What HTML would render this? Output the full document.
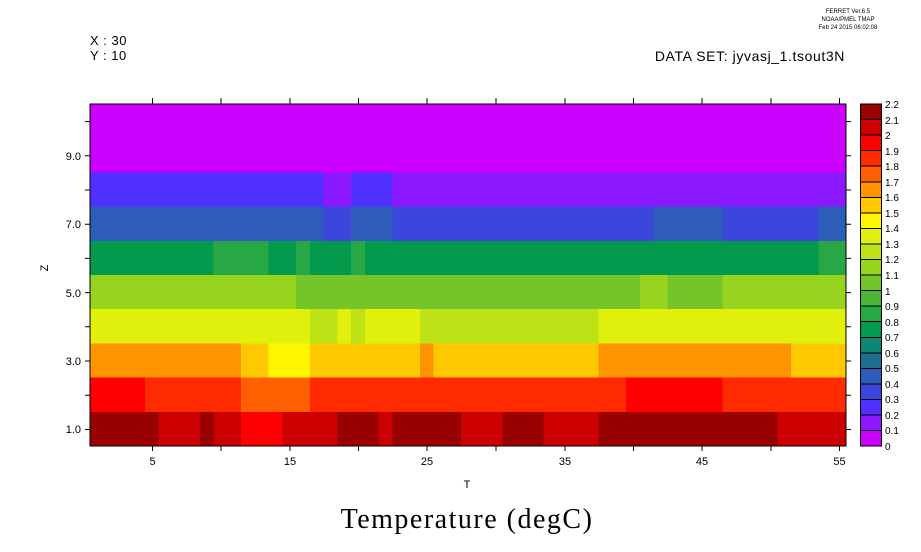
<!DOCTYPE html>
<html><head><style>body{margin:0;background:#fff}svg{display:block}</style></head><body>
<svg width="921" height="552" xmlns="http://www.w3.org/2000/svg" font-family="Liberation Sans, sans-serif">
<rect width="921" height="552" fill="#fff"/>
<g shape-rendering="crispEdges">
<rect x="90" y="104" width="756" height="69" fill="#cc00ff"/>
<rect x="90" y="172.4" width="756" height="34.2" fill="#8c18ff"/>
<rect x="90" y="172.4" width="233.7" height="34.2" fill="#5030ff"/>
<rect x="351.2" y="172.4" width="41.2" height="34.2" fill="#5030ff"/>
<rect x="90" y="206.6" width="756" height="34.2" fill="#3d46dc"/>
<rect x="90" y="206.6" width="233.7" height="34.2" fill="#2d5db8"/>
<rect x="351.2" y="206.6" width="41.2" height="34.2" fill="#2d5db8"/>
<rect x="653.5" y="206.6" width="68.8" height="34.2" fill="#2d5db8"/>
<rect x="818.5" y="206.6" width="27.5" height="34.2" fill="#2d5db8"/>
<rect x="90" y="240.8" width="756" height="34.2" fill="#039a4e"/>
<rect x="213.7" y="240.8" width="55" height="34.2" fill="#27a844"/>
<rect x="296.2" y="240.8" width="13.7" height="34.2" fill="#27a844"/>
<rect x="351.2" y="240.8" width="13.7" height="34.2" fill="#27a844"/>
<rect x="818.5" y="240.8" width="27.5" height="34.2" fill="#27a844"/>
<rect x="90" y="275" width="756" height="34.2" fill="#73c52a"/>
<rect x="90" y="275" width="206.2" height="34.2" fill="#97d41e"/>
<rect x="639.8" y="275" width="27.5" height="34.2" fill="#97d41e"/>
<rect x="722.3" y="275" width="123.7" height="34.2" fill="#97d41e"/>
<rect x="90" y="309.2" width="756" height="34.2" fill="#e0f00c"/>
<rect x="309.9" y="309.2" width="27.5" height="34.2" fill="#bde316"/>
<rect x="351.2" y="309.2" width="13.7" height="34.2" fill="#bde316"/>
<rect x="419.9" y="309.2" width="178.7" height="34.2" fill="#bde316"/>
<rect x="90" y="343.4" width="756" height="34.2" fill="#ffc800"/>
<rect x="90" y="343.4" width="151.2" height="34.2" fill="#ff9300"/>
<rect x="268.7" y="343.4" width="41.2" height="34.2" fill="#fff700"/>
<rect x="419.9" y="343.4" width="13.7" height="34.2" fill="#ff9300"/>
<rect x="598.6" y="343.4" width="192.4" height="34.2" fill="#ff9300"/>
<rect x="90" y="377.6" width="756" height="34.2" fill="#ff2a00"/>
<rect x="90" y="377.6" width="55" height="34.2" fill="#ff0000"/>
<rect x="241.2" y="377.6" width="68.7" height="34.2" fill="#ff5f00"/>
<rect x="626" y="377.6" width="96.3" height="34.2" fill="#ff0000"/>
<rect x="90" y="411.8" width="756" height="34.2" fill="#cc0000"/>
<rect x="90" y="411.8" width="68.7" height="34.2" fill="#990000"/>
<rect x="200" y="411.8" width="13.7" height="34.2" fill="#990000"/>
<rect x="241.2" y="411.8" width="41.2" height="34.2" fill="#ff0000"/>
<rect x="337.4" y="411.8" width="41.2" height="34.2" fill="#990000"/>
<rect x="392.4" y="411.8" width="68.7" height="34.2" fill="#990000"/>
<rect x="502.4" y="411.8" width="41.2" height="34.2" fill="#990000"/>
<rect x="598.6" y="411.8" width="178.7" height="34.2" fill="#990000"/>
</g>
<rect x="90" y="104" width="756" height="342" fill="none" stroke="#000" stroke-width="1"/>
<g stroke="#000" stroke-width="1">
<path d="M85 429.5H90M85 395.3H90M85 361H90M85 326.8H90M85 292.6H90M85 258.4H90M85 224.2H90M85 190H90M85 155.8H90M85 121.6H90"/>
<path d="M846 429.5H851M846 395.3H851M846 361H851M846 326.8H851M846 292.6H851M846 258.4H851M846 224.2H851M846 190H851M846 155.8H851M846 121.6H851"/>
<path d="M152.5 446V451M221 446V451M290 446V451M358.5 446V451M427 446V451M496 446V451M565 446V451M633.5 446V451M702 446V451M771 446V451M839.5 446V451"/>
<path d="M152.5 104V98M221 104V98M290 104V98M358.5 104V98M427 104V98M496 104V98M565 104V98M633.5 104V98M702 104V98M771 104V98M839.5 104V98"/>
</g>
<g font-size="11" fill="#000" text-anchor="end">
<text x="81" y="433">1.0</text><text x="81" y="365">3.0</text><text x="81" y="297">5.0</text><text x="81" y="228">7.0</text><text x="81" y="160">9.0</text>
</g>
<g font-size="11" fill="#000" text-anchor="middle">
<text x="152.5" y="465">5</text><text x="290" y="465">15</text><text x="427" y="465">25</text><text x="565" y="465">35</text><text x="702" y="465">45</text><text x="839.5" y="465">55</text>
<text x="467" y="488">T</text>
</g>
<text x="48" y="268" font-size="11" text-anchor="middle" transform="rotate(-90 48 268)">Z</text>
<text x="467" y="528" font-size="28" letter-spacing="1.5" text-anchor="middle" font-family="Liberation Serif, serif">Temperature (degC)</text>
<text x="90" y="45" font-size="13" letter-spacing="0.5">X : 30</text>
<text x="90" y="60" font-size="13" letter-spacing="0.5">Y : 10</text>
<text x="845" y="61" font-size="14" letter-spacing="0.6" text-anchor="end">DATA SET: jyvasj_1.tsout3N</text>
<g font-size="6" text-anchor="middle"><text x="848" y="13">FERRET  Ver.6.5</text><text x="848" y="21">NOAA/PMEL TMAP</text><text x="848" y="29">Feb 24 2015 06:02:08</text></g>
<g shape-rendering="crispEdges" stroke="#000" stroke-width="1">
<rect x="860.5" y="104" width="21" height="15.55" fill="#990000"/>
<rect x="860.5" y="119.55" width="21" height="15.55" fill="#cc0000"/>
<rect x="860.5" y="135.1" width="21" height="15.55" fill="#ff0000"/>
<rect x="860.5" y="150.65" width="21" height="15.55" fill="#ff2a00"/>
<rect x="860.5" y="166.2" width="21" height="15.55" fill="#ff5f00"/>
<rect x="860.5" y="181.75" width="21" height="15.55" fill="#ff9300"/>
<rect x="860.5" y="197.3" width="21" height="15.55" fill="#ffc800"/>
<rect x="860.5" y="212.85" width="21" height="15.55" fill="#fff700"/>
<rect x="860.5" y="228.4" width="21" height="15.55" fill="#e0f00c"/>
<rect x="860.5" y="243.95" width="21" height="15.55" fill="#bde316"/>
<rect x="860.5" y="259.5" width="21" height="15.55" fill="#97d41e"/>
<rect x="860.5" y="275.05" width="21" height="15.55" fill="#73c52a"/>
<rect x="860.5" y="290.6" width="21" height="15.55" fill="#4bb53a"/>
<rect x="860.5" y="306.15" width="21" height="15.55" fill="#27a844"/>
<rect x="860.5" y="321.7" width="21" height="15.55" fill="#039a4e"/>
<rect x="860.5" y="337.25" width="21" height="15.55" fill="#0f8674"/>
<rect x="860.5" y="352.8" width="21" height="15.55" fill="#1f6e8f"/>
<rect x="860.5" y="368.35" width="21" height="15.55" fill="#2d5db8"/>
<rect x="860.5" y="383.9" width="21" height="15.55" fill="#3d46dc"/>
<rect x="860.5" y="399.45" width="21" height="15.55" fill="#5030ff"/>
<rect x="860.5" y="415" width="21" height="15.55" fill="#8c18ff"/>
<rect x="860.5" y="430.55" width="21" height="15.45" fill="#cc00ff"/>
</g>
<g font-size="10" fill="#000">
<text x="885" y="108">2.2</text><text x="885" y="124">2.1</text><text x="885" y="139">2</text><text x="885" y="155">1.9</text><text x="885" y="170">1.8</text><text x="885" y="186">1.7</text><text x="885" y="201">1.6</text><text x="885" y="217">1.5</text><text x="885" y="232">1.4</text><text x="885" y="248">1.3</text><text x="885" y="263">1.2</text><text x="885" y="279">1.1</text><text x="885" y="295">1</text><text x="885" y="310">0.9</text><text x="885" y="326">0.8</text><text x="885" y="341">0.7</text><text x="885" y="357">0.6</text><text x="885" y="372">0.5</text><text x="885" y="388">0.4</text><text x="885" y="403">0.3</text><text x="885" y="419">0.2</text><text x="885" y="434">0.1</text><text x="885" y="450">0</text>
</g>
</svg>
</body></html>
